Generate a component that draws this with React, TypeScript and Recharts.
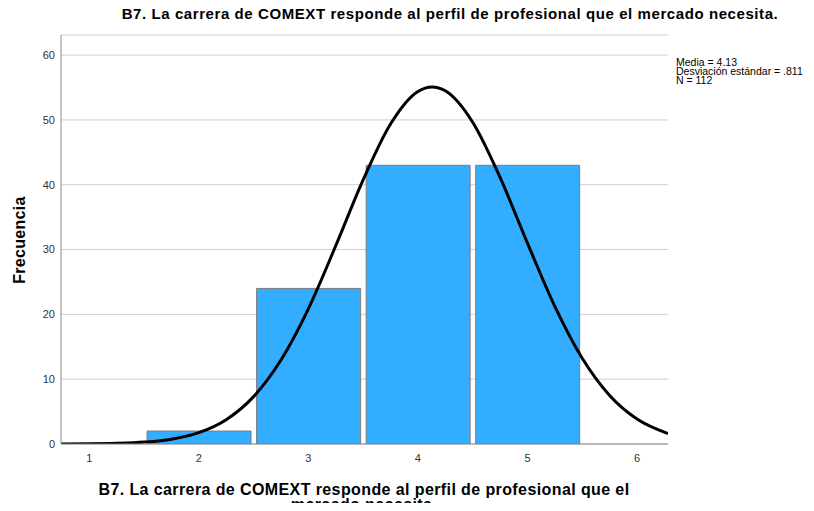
import { ComposedChart, Bar, Line, XAxis, YAxis, CartesianGrid } from "recharts";

// histogram bins (response value -> count)
const binValues = [2, 3, 4, 5];
const binCounts = [2, 24, 43, 43];

// normal curve
const curveX = [0.742, 1, 1.25, 1.5, 1.75, 2, 2.25, 2.5, 2.75, 3, 3.25, 3.5, 3.75, 4, 4.13, 4.25, 4.5, 4.75, 5, 5.25, 5.5, 5.75, 6, 6.283];
const curveY = [0.01, 0.03, 0.1, 0.29, 0.74, 1.75, 3.75, 7.31, 12.95, 20.86, 30.58, 40.74, 49.36, 54.39, 55.09, 54.49, 49.64, 41.13, 30.99, 21.23, 13.22, 7.49, 3.86, 1.62];

const xTicks = [1, 2, 3, 4, 5, 6];
const yTicks = [0, 10, 20, 30, 40, 50, 60];

const TITLE = "B7. La carrera de COMEXT responde al perfil de profesional que el mercado necesita.";
const X_TITLE_1 = "B7. La carrera de COMEXT responde al perfil de profesional que el";
const X_TITLE_2 = "mercado necesita.";
const Y_TITLE = "Frecuencia";
const STATS = ["Media = 4.13", "Desviación estándar = .811", "N = 112"];

const FONT = "'Liberation Sans', Arial, sans-serif";

export default function App() {
  const bars = binValues.map((x, i) => ({ x, freq: binCounts[i] }));
  const curve = curveX.map((x, i) => ({ x, y: curveY[i] }));

  return (
    <div style={{ position: "relative", width: 814, height: 511, margin: -8, background: "#fff", fontFamily: FONT, overflow: "hidden" }}>
      <ComposedChart
        width={814}
        height={511}
        data={bars}
        margin={{ top: 35, right: 146, bottom: 37, left: 21 }}
      >
        <CartesianGrid vertical={false} stroke="#cfcfcf" strokeWidth={1} />
        <XAxis
          dataKey="x"
          type="number"
          domain={[0.742, 6.283]}
          ticks={xTicks}
          allowDataOverflow
          height={30}
          tickLine={false}
          tickSize={6}
          tickMargin={4}
          axisLine={{ stroke: "#8a8a8a" }}
          tick={{ fontSize: 11, fill: "#333", fontFamily: FONT }}
        />
        <XAxis xAxisId="curve" dataKey="x" type="number" domain={[0.742, 6.283]} allowDataOverflow hide />
        <YAxis
          type="number"
          domain={[0, 63.1]}
          ticks={yTicks}
          allowDataOverflow
          width={40}
          tickLine={false}
          tickSize={4}
          tickMargin={2}
          axisLine={{ stroke: "#8a8a8a" }}
          tick={{ fontSize: 11, fill: "#333", fontFamily: FONT }}
        />
        <Bar dataKey="freq" fill="#33adff" stroke="#7d7d7d" strokeWidth={1} barSize={104} isAnimationActive={false} />
        <Line
          xAxisId="curve"
          data={curve}
          dataKey="y"
          type="monotone"
          stroke="#000"
          strokeWidth={3}
          dot={false}
          activeDot={false}
          isAnimationActive={false}
        />
      </ComposedChart>

      <div style={{ position: "absolute", top: 5.4, left: 0, width: 900, textAlign: "center", fontSize: 15, letterSpacing: 0.58, fontWeight: "bold", color: "#000", whiteSpace: "nowrap" }}>
        {TITLE}
      </div>

      <div style={{ position: "absolute", left: 20.4, top: 240, fontSize: 16, letterSpacing: 0.3, fontWeight: "bold", color: "#000", transform: "translate(-50%, -50%) rotate(-90deg)", whiteSpace: "nowrap" }}>
        {Y_TITLE}
      </div>

      <div style={{ position: "absolute", top: 481.5, left: 114, width: 500, fontSize: 16, letterSpacing: 0.4, lineHeight: "15px", fontWeight: "bold", color: "#000", whiteSpace: "nowrap", display: "flex", flexDirection: "column", alignItems: "center" }}>
        <span>{X_TITLE_1}</span>
        <span>{X_TITLE_2}</span>
      </div>

      <div style={{ position: "absolute", top: 58, left: 676, fontSize: 10.5, lineHeight: "9px", color: "#000", whiteSpace: "nowrap" }}>
        {STATS.map((s) => (
          <div key={s}>{s}</div>
        ))}
      </div>
    </div>
  );
}
